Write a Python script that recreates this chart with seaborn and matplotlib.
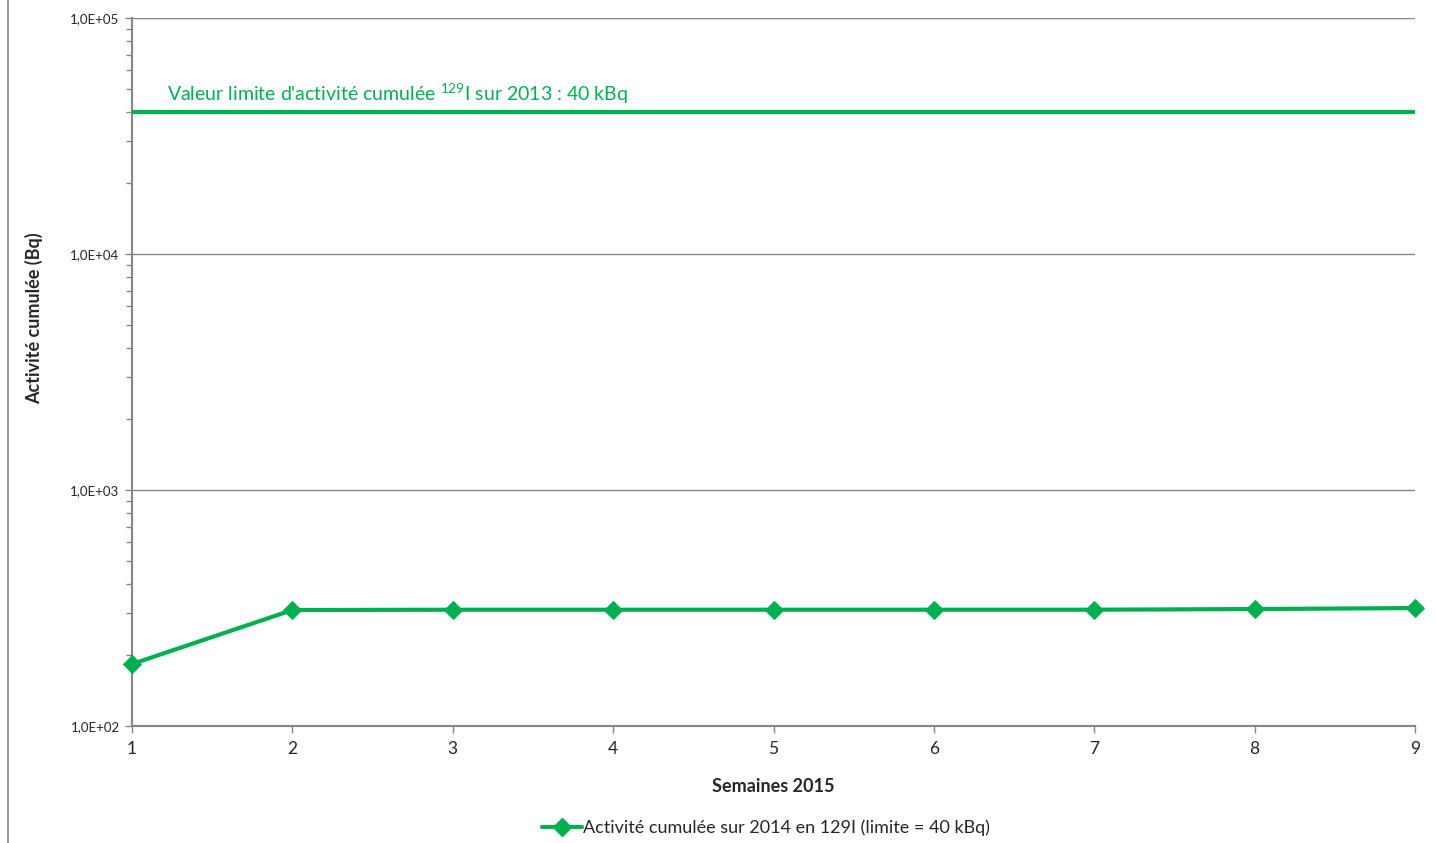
import matplotlib
matplotlib.use("Agg")
import matplotlib.pyplot as plt
import matplotlib.transforms as mtransforms
from matplotlib.lines import Line2D
from matplotlib.ticker import FuncFormatter, LogLocator, FixedLocator
import seaborn as sns
import pandas as pd
import numpy as np

# Data
semaines = [1, 2, 3, 4, 5, 6, 7, 8, 9]
activite = [183, 310, 311, 311, 311, 311, 311, 313, 316]
limite = 40000

serie_label = "Activité cumulée sur 2014 en 129I (limite = 40 kBq)"
limite_label = r"Valeur limite d'activité cumulée $^{129}$I sur 2013 : 40 kBq"

GREEN = "#00B050"
GREY = "#868686"

sns.set_theme(style="white")
plt.rcParams["font.family"] = ["Lato", "DejaVu Sans"]
plt.rcParams["mathtext.fontset"] = "custom"
plt.rcParams["mathtext.rm"] = "Lato"
plt.rcParams["mathtext.it"] = "Lato"
plt.rcParams["mathtext.bf"] = "Lato:bold"

df = pd.DataFrame({"semaine": semaines, "activite": activite})

fig = plt.figure(figsize=(14.36, 8.43), dpi=100)
ax = fig.add_axes([132 / 1436, 1 - 726 / 843, (1415 - 132) / 1436, (726 - 18) / 843])

sns.lineplot(data=df, x="semaine", y="activite", ax=ax, color=GREEN,
             linewidth=3, marker="D", markersize=9, markeredgecolor=GREEN,
             label=serie_label, legend=False, clip_on=False, zorder=5)

# limit line + its label
ax.axhline(limite, color=GREEN, linewidth=3, zorder=4)
blend = mtransforms.blended_transform_factory(ax.transAxes, ax.transData)
ax.annotate(limite_label, xy=(0.027, limite), xycoords=blend,
            xytext=(0, 4), textcoords="offset points",
            color=GREEN, fontsize=14, ha="left", va="bottom")

ax.set_yscale("log")
ax.set_ylim(100, 100000)
ax.set_xlim(1, 9)
ax.set_xticks(semaines)

ax.yaxis.set_major_locator(FixedLocator([1e2, 1e3, 1e4, 1e5]))
ax.yaxis.set_minor_locator(LogLocator(base=10, subs=np.arange(2, 10)))


def sci_fmt(v, pos):
    e = int(np.floor(np.log10(v) + 1e-9))
    m = v / 10 ** e
    return f"{m:.1f}E+{e:02d}".replace(".", ",")


ax.yaxis.set_major_formatter(FuncFormatter(sci_fmt))
ax.yaxis.set_minor_formatter(FuncFormatter(lambda v, p: ""))

ax.grid(True, axis="y", which="major", color=GREY, linewidth=1)
ax.set_axisbelow(True)
for side in ["top", "right"]:
    ax.spines[side].set_visible(False)
for side in ["left", "bottom"]:
    ax.spines[side].set_color(GREY)
    ax.spines[side].set_linewidth(1.5)

ax.tick_params(axis="y", which="major", direction="out", length=5, width=1,
               color=GREY, labelsize=9.5, left=True, pad=4)
ax.tick_params(axis="y", which="minor", direction="out", length=4, width=1,
               color=GREY, left=True)
ax.tick_params(axis="x", which="major", direction="out", length=5, width=1,
               color=GREY, labelsize=12.5, bottom=True, pad=6)

ax.set_xlabel("Semaines 2015", fontsize=13, fontweight="bold", labelpad=15)
ax.set_ylabel("Activité cumulée (Bq)", fontsize=13, fontweight="bold")
ax.yaxis.set_label_coords(-0.069, 0.576)

handle = Line2D([], [], color=GREEN, linewidth=3, marker="D", markersize=9)
fig.legend([handle], [serie_label], loc="center", bbox_to_anchor=(766 / 1436, 1 - 828 / 843),
           frameon=False, fontsize=13, handlelength=2.2, handletextpad=0.1)

# thin border line on the left edge
fig.add_artist(Line2D([7.5 / 1436, 7.5 / 1436], [0.0, 1.0], color=GREY, linewidth=1.2))

fig.savefig("out.png", dpi=100)
plt.close(fig)
